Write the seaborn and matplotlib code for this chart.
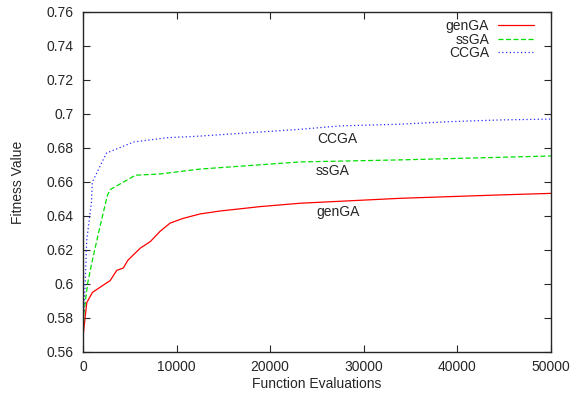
import matplotlib
matplotlib.use('Agg')
import matplotlib.pyplot as plt
import seaborn as sns
import pandas as pd

# 数据
gen_x = [0, 400, 1000, 1800, 2900, 3600, 4300, 4800, 6100, 7200, 8200, 9300,
         10700, 12500, 14600, 18900, 23200, 33900, 44600, 50000]
gen_y = [0.569, 0.589, 0.595, 0.598, 0.602, 0.608, 0.6094, 0.614, 0.621, 0.625,
         0.6308, 0.6358, 0.6386, 0.6412, 0.6429, 0.6455, 0.6475, 0.6504, 0.6524, 0.6533]

ss_x = [0, 100, 500, 1000, 1800, 2600, 2900, 5600, 8200, 12500, 23200, 33900, 50000]
ss_y = [0.569, 0.583, 0.6006, 0.614, 0.6335, 0.652, 0.6555, 0.664, 0.6647, 0.6676,
        0.6718, 0.673, 0.6753]

cc_x = [0, 200, 400, 900, 1000, 2500, 5400, 8900, 12500, 23200, 27500, 33900,
        39300, 44600, 50000]
cc_y = [0.575, 0.596, 0.626, 0.648, 0.660, 0.677, 0.6835, 0.686, 0.687, 0.691,
        0.693, 0.694, 0.6955, 0.6965, 0.697]

series_names = ['genGA', 'ssGA', 'CCGA']
series_colors = ['#ff0000', '#00e000', '#2a2aff']
series_dash = [None, (4, 2), (1, 2)]

label_x = [27300, 26700, 27200]
label_y = [0.6424, 0.6665, 0.6853]

x_ticks = [0, 10000, 20000, 30000, 40000, 50000]
y_ticks = [0.56, 0.58, 0.6, 0.62, 0.64, 0.66, 0.68, 0.7, 0.72, 0.74, 0.76]
y_tick_labels = ['0.56', '0.58', '0.6', '0.62', '0.64', '0.66', '0.68', '0.7', '0.72', '0.74', '0.76']

sns.set_style('ticks')
plt.rcParams['font.family'] = ['Liberation Sans', 'DejaVu Sans']
plt.rcParams['xtick.direction'] = 'in'
plt.rcParams['ytick.direction'] = 'in'

fig = plt.figure(figsize=(5.83, 3.94), dpi=100)
ax = fig.add_axes([0.1424, 0.1066, 0.8026, 0.863])

xs = [gen_x, ss_x, cc_x]
ys = [gen_y, ss_y, cc_y]
for name, x, y, c, d in zip(series_names, xs, ys, series_colors, series_dash):
    df = pd.DataFrame({'x': x, 'y': y})
    sns.lineplot(data=df, x='x', y='y', ax=ax, color=c, linewidth=0.9,
                 label=name, estimator=None)
    if d is not None:
        ax.lines[-1].set_dashes(d)

for name, lx, ly in zip(series_names, label_x, label_y):
    ax.text(lx, ly, name, ha='center', va='center', fontsize=10)

ax.set_xlim(0, 50000)
ax.set_ylim(0.56, 0.76)
ax.set_xticks(x_ticks)
ax.set_yticks(y_ticks)
ax.set_yticklabels(y_tick_labels)
ax.tick_params(labelsize=10, length=5, width=0.8, top=True, right=True)
ax.tick_params(axis='y', pad=6.5)
ax.tick_params(axis='x', pad=6)
for s in ax.spines.values():
    s.set_visible(True)
    s.set_linewidth(1.0)
ax.set_xlabel('Function Evaluations', fontsize=10, labelpad=2)
ax.set_ylabel('Fitness Value', fontsize=10, labelpad=16)

ax.legend(loc='upper right', frameon=False, markerfirst=False, fontsize=10,
          handlelength=2.6, labelspacing=-0.05, handletextpad=0.6,
          borderaxespad=0.0, bbox_to_anchor=(0.975, 0.995))

fig.savefig('out.png', dpi=100)
